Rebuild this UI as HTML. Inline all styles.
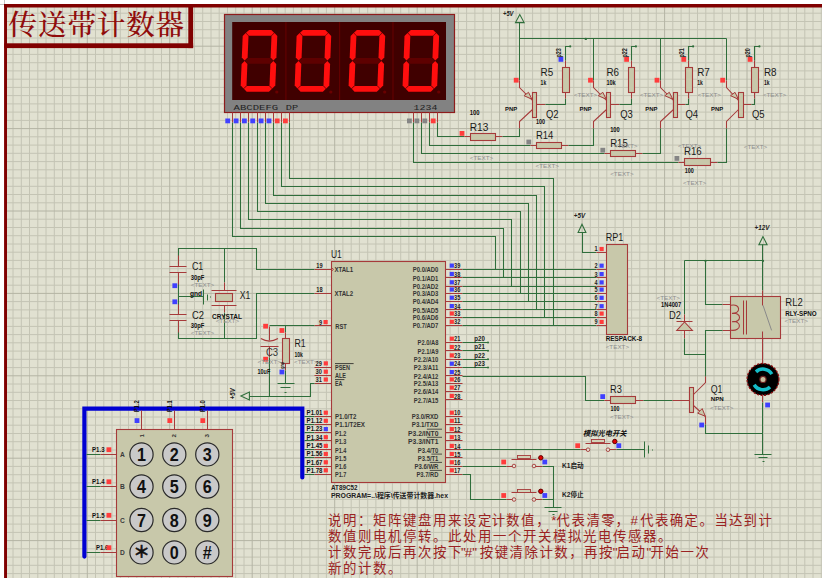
<!DOCTYPE html>
<html lang="zh"><head><meta charset="utf-8"><title>传送带计数器</title>
<style>
html,body{margin:0;padding:0;background:#fff;}
body{width:822px;height:578px;overflow:hidden;}
svg{display:block;font-family:"Liberation Sans","Noto Sans CJK SC",sans-serif;}
</style></head><body>
<svg width="822" height="578" viewBox="0 0 822 578">
<rect x="0" y="0" width="822" height="578" fill="#ffffff"/>
<rect x="4" y="4" width="818" height="574" fill="#e1e1d1"/>
<path d="M13 4V578M21.3 4V578M29.5 4V578M37.8 4V578M46 4V578M54.3 4V578M62.5 4V578M70.8 4V578M79 4V578M95.5 4V578M103.8 4V578M112 4V578M120.3 4V578M128.5 4V578M136.8 4V578M145 4V578M153.2 4V578M161.5 4V578M178 4V578M186.2 4V578M194.5 4V578M202.7 4V578M211 4V578M219.2 4V578M227.5 4V578M235.7 4V578M244 4V578M260.5 4V578M268.7 4V578M277 4V578M285.2 4V578M293.4 4V578M301.7 4V578M309.9 4V578M318.2 4V578M326.4 4V578M342.9 4V578M351.2 4V578M359.4 4V578M367.7 4V578M375.9 4V578M384.2 4V578M392.4 4V578M400.7 4V578M408.9 4V578M425.4 4V578M433.6 4V578M441.9 4V578M450.1 4V578M458.4 4V578M466.6 4V578M474.9 4V578M483.1 4V578M491.4 4V578M507.9 4V578M516.1 4V578M524.4 4V578M532.6 4V578M540.9 4V578M549.1 4V578M557.3 4V578M565.6 4V578M573.8 4V578M590.3 4V578M598.6 4V578M606.8 4V578M615.1 4V578M623.3 4V578M631.6 4V578M639.8 4V578M648.1 4V578M656.3 4V578M672.8 4V578M681.1 4V578M689.3 4V578M697.5 4V578M705.8 4V578M714 4V578M722.3 4V578M730.5 4V578M738.8 4V578M755.3 4V578M763.5 4V578M771.8 4V578M780 4V578M788.3 4V578M796.5 4V578M804.8 4V578M813 4V578M821.3 4V578M4 5H822M4 13.2H822M4 21.5H822M4 29.7H822M4 38H822M4 54.4H822M4 62.7H822M4 70.9H822M4 79.2H822M4 87.4H822M4 95.6H822M4 103.9H822M4 112.1H822M4 120.4H822M4 136.8H822M4 145.1H822M4 153.3H822M4 161.6H822M4 169.8H822M4 178H822M4 186.3H822M4 194.5H822M4 202.8H822M4 219.2H822M4 227.5H822M4 235.7H822M4 244H822M4 252.2H822M4 260.4H822M4 268.7H822M4 276.9H822M4 285.2H822M4 301.6H822M4 309.9H822M4 318.1H822M4 326.4H822M4 334.6H822M4 342.8H822M4 351.1H822M4 359.3H822M4 367.6H822M4 384H822M4 392.3H822M4 400.5H822M4 408.8H822M4 417H822M4 425.2H822M4 433.5H822M4 441.7H822M4 450H822M4 466.4H822M4 474.7H822M4 482.9H822M4 491.2H822M4 499.4H822M4 507.6H822M4 515.9H822M4 524.1H822M4 532.4H822M4 548.8H822M4 557.1H822M4 565.3H822M4 573.6H822" stroke="#c4c4b4" stroke-width="1" fill="none"/>
<path d="M4.8 4V578M87.3 4V578M169.7 4V578M252.2 4V578M334.7 4V578M417.2 4V578M499.6 4V578M582.1 4V578M664.6 4V578M747 4V578M4 46.2H822M4 128.6H822M4 211H822M4 293.4H822M4 375.8H822M4 458.2H822M4 540.6H822" stroke="#b4b4a4" stroke-width="1" fill="none"/>
<path d="M4.5 0V4M0 4.5H4" stroke="#9a9a9a" stroke-width="0.6" fill="none"/>
<rect x="4.1" y="4" width="818" height="3.5" fill="#800000"/>
<rect x="4.1" y="4" width="2.9" height="574" fill="#800000"/>
<rect x="4.2" y="43.3" width="188.9" height="4.8" fill="#800000"/>
<rect x="188.3" y="4.3" width="4.8" height="43.8" fill="#800000"/>
<text x="8.6" y="35.3" font-family="'Liberation Serif','Noto Serif CJK SC',serif" font-weight="500" font-size="28.6" fill="#900c0c" textLength="175.6" lengthAdjust="spacing">传送带计数器</text>
<rect x="224.5" y="14.5" width="230" height="98" fill="#828282" stroke="#8e1c1c" stroke-width="1.2"/>
<rect x="232.2" y="22" width="213.8" height="78" fill="#400000"/>
<line x1="285.9" y1="22" x2="285.9" y2="100" stroke="#640000" stroke-width="1.1"/>
<line x1="339.6" y1="22" x2="339.6" y2="100" stroke="#640000" stroke-width="1.1"/>
<line x1="393.0" y1="22" x2="393.0" y2="100" stroke="#640000" stroke-width="1.1"/>
<polygon points="246,32.8 249.1,29.9 271.3,29.9 274.1,32.8 271.1,35.7 248.8,35.7" fill="#ff0e0e"/>
<polygon points="244.9,60.8 248,57.9 270.3,57.9 273.1,60.8 270,63.7 247.7,63.7" fill="#5e0000"/>
<polygon points="243.9,88.8 246.9,85.9 269.2,85.9 272,88.8 268.9,91.7 246.7,91.7" fill="#ff0e0e"/>
<polygon points="245.7,33.1 248.5,36 247.6,57.5 244.6,60.4 241.8,57.5 242.7,36" fill="#ff0e0e"/>
<polygon points="274.5,33.1 277.3,36 276.4,57.5 273.4,60.4 270.6,57.5 271.5,36" fill="#ff0e0e"/>
<polygon points="244.6,61.1 247.4,64 246.5,85.5 243.5,88.4 240.7,85.5 241.6,64" fill="#ff0e0e"/>
<polygon points="273.4,61.1 276.2,64 275.3,85.5 272.3,88.4 269.5,85.5 270.4,64" fill="#ff0e0e"/>
<circle cx="276.8" cy="92" r="1.6" fill="#6a0000"/>
<polygon points="300,32.8 303,29.9 325.3,29.9 328.1,32.8 325.1,35.7 302.8,35.7" fill="#ff0e0e"/>
<polygon points="298.9,60.8 301.9,57.9 324.2,57.9 327,60.8 324,63.7 301.7,63.7" fill="#5e0000"/>
<polygon points="297.8,88.8 300.8,85.9 323.1,85.9 325.9,88.8 322.9,91.7 300.6,91.7" fill="#ff0e0e"/>
<polygon points="299.6,33.1 302.4,36 301.6,57.5 298.6,60.4 295.8,57.5 296.6,36" fill="#ff0e0e"/>
<polygon points="328.4,33.1 331.2,36 330.4,57.5 327.4,60.4 324.6,57.5 325.4,36" fill="#ff0e0e"/>
<polygon points="298.5,61.1 301.3,64 300.5,85.5 297.5,88.4 294.7,85.5 295.5,64" fill="#ff0e0e"/>
<polygon points="327.3,61.1 330.1,64 329.3,85.5 326.3,88.4 323.5,85.5 324.3,64" fill="#ff0e0e"/>
<circle cx="330.8" cy="92" r="1.6" fill="#6a0000"/>
<polygon points="353.9,32.8 356.9,29.9 379.2,29.9 382,32.8 379,35.7 356.7,35.7" fill="#ff0e0e"/>
<polygon points="352.8,60.8 355.9,57.9 378.2,57.9 380.9,60.8 377.9,63.7 355.6,63.7" fill="#5e0000"/>
<polygon points="351.8,88.8 354.8,85.9 377.1,85.9 379.9,88.8 376.8,91.7 354.5,91.7" fill="#ff0e0e"/>
<polygon points="353.6,33.1 356.4,36 355.5,57.5 352.5,60.4 349.7,57.5 350.6,36" fill="#ff0e0e"/>
<polygon points="382.4,33.1 385.2,36 384.3,57.5 381.3,60.4 378.5,57.5 379.4,36" fill="#ff0e0e"/>
<polygon points="352.5,61.1 355.3,64 354.4,85.5 351.4,88.4 348.6,85.5 349.5,64" fill="#ff0e0e"/>
<polygon points="381.3,61.1 384.1,64 383.2,85.5 380.2,88.4 377.4,85.5 378.3,64" fill="#ff0e0e"/>
<circle cx="384.7" cy="92" r="1.6" fill="#6a0000"/>
<polygon points="407.9,32.8 410.9,29.9 433.2,29.9 436,32.8 433,35.7 410.7,35.7" fill="#ff0e0e"/>
<polygon points="406.8,60.8 409.8,57.9 432.1,57.9 434.9,60.8 431.9,63.7 409.6,63.7" fill="#5e0000"/>
<polygon points="405.7,88.8 408.7,85.9 431,85.9 433.8,88.8 430.8,91.7 408.5,91.7" fill="#ff0e0e"/>
<polygon points="407.5,33.1 410.3,36 409.5,57.5 406.5,60.4 403.7,57.5 404.5,36" fill="#ff0e0e"/>
<polygon points="436.3,33.1 439.1,36 438.3,57.5 435.3,60.4 432.5,57.5 433.3,36" fill="#ff0e0e"/>
<polygon points="406.4,61.1 409.2,64 408.4,85.5 405.4,88.4 402.6,85.5 403.4,64" fill="#ff0e0e"/>
<polygon points="435.2,61.1 438,64 437.2,85.5 434.2,88.4 431.4,85.5 432.2,64" fill="#ff0e0e"/>
<circle cx="438.7" cy="92" r="1.6" fill="#6a0000"/>
<text x="233.6" y="110.3" font-size="7" font-family="'Liberation Mono','DejaVu Sans Mono',monospace" fill="#222" textLength="44.6" lengthAdjust="spacingAndGlyphs">ABCDEFG</text>
<text x="285.8" y="110.3" font-size="7" font-family="'Liberation Mono','DejaVu Sans Mono',monospace" fill="#222" textLength="12.4" lengthAdjust="spacingAndGlyphs">DP</text>
<text x="413.6" y="110.3" font-size="7" font-family="'Liberation Mono','DejaVu Sans Mono',monospace" fill="#222" textLength="23.8" lengthAdjust="spacingAndGlyphs">1234</text>
<polyline points="232.5,112.5 232.5,122.5" fill="none" stroke="#a63a3a" stroke-width="1.05"/>
<rect x="225.3" y="118.5" width="4.8" height="4.8" fill="#4040ff"/>
<polyline points="232.5,122.5 232.5,236.5 495.5,236.5 495.5,269.5" fill="none" stroke="#2f6e3b" stroke-width="1.05"/>
<polyline points="240.5,112.5 240.5,122.5" fill="none" stroke="#a63a3a" stroke-width="1.05"/>
<rect x="233.7" y="118.5" width="4.8" height="4.8" fill="#4040ff"/>
<polyline points="240.5,122.5 240.5,228.5 503.5,228.5 503.5,277.5" fill="none" stroke="#2f6e3b" stroke-width="1.05"/>
<polyline points="248.5,112.5 248.5,122.5" fill="none" stroke="#a63a3a" stroke-width="1.05"/>
<rect x="242" y="118.5" width="4.8" height="4.8" fill="#4040ff"/>
<polyline points="248.5,122.5 248.5,219.5 511.5,219.5 511.5,286.5" fill="none" stroke="#2f6e3b" stroke-width="1.05"/>
<polyline points="257.5,112.5 257.5,122.5" fill="none" stroke="#a63a3a" stroke-width="1.05"/>
<rect x="250.3" y="118.5" width="4.8" height="4.8" fill="#4040ff"/>
<polyline points="257.5,122.5 257.5,211.5 520.5,211.5 520.5,293.5" fill="none" stroke="#2f6e3b" stroke-width="1.05"/>
<polyline points="265.5,112.5 265.5,122.5" fill="none" stroke="#a63a3a" stroke-width="1.05"/>
<rect x="258.7" y="118.5" width="4.8" height="4.8" fill="#4040ff"/>
<polyline points="265.5,122.5 265.5,203.5 528.5,203.5 528.5,301.5" fill="none" stroke="#2f6e3b" stroke-width="1.05"/>
<polyline points="273.5,112.5 273.5,122.5" fill="none" stroke="#a63a3a" stroke-width="1.05"/>
<rect x="266.6" y="118.5" width="4.8" height="4.8" fill="#4040ff"/>
<polyline points="273.5,122.5 273.5,195.5 536.5,195.5 536.5,309.5" fill="none" stroke="#2f6e3b" stroke-width="1.05"/>
<polyline points="281.5,112.5 281.5,122.5" fill="none" stroke="#a63a3a" stroke-width="1.05"/>
<rect x="274.8" y="118.5" width="4.8" height="4.8" fill="#ff3c3c"/>
<polyline points="281.5,122.5 281.5,186.5 544.5,186.5 544.5,317.5" fill="none" stroke="#2f6e3b" stroke-width="1.05"/>
<polyline points="289.5,112.5 289.5,122.5" fill="none" stroke="#a63a3a" stroke-width="1.05"/>
<rect x="283" y="118.5" width="4.8" height="4.8" fill="#ff3c3c"/>
<polyline points="289.5,122.5 289.5,178.5 553.5,178.5 553.5,325.5" fill="none" stroke="#2f6e3b" stroke-width="1.05"/>
<polyline points="413.5,112.5 413.5,122.5" fill="none" stroke="#a63a3a" stroke-width="1.05"/>
<rect x="407" y="118.5" width="4.8" height="4.8" fill="#858585"/>
<polyline points="421.5,112.5 421.5,122.5" fill="none" stroke="#a63a3a" stroke-width="1.05"/>
<rect x="414.5" y="118.5" width="4.8" height="4.8" fill="#858585"/>
<polyline points="429.5,112.5 429.5,122.5" fill="none" stroke="#a63a3a" stroke-width="1.05"/>
<rect x="422.4" y="118.5" width="4.8" height="4.8" fill="#858585"/>
<polyline points="437.5,112.5 437.5,122.5" fill="none" stroke="#a63a3a" stroke-width="1.05"/>
<rect x="430.8" y="118.5" width="4.8" height="4.8" fill="#ff3c3c"/>
<polygon points="519.8,14.6 515.5,22.6 524.1,22.6" fill="none" stroke="#2f6e3b" stroke-width="1.1"/>
<text x="503" y="15.8" font-size="6.4" font-weight="bold" fill="#222" text-anchor="start" textLength="10.5" lengthAdjust="spacingAndGlyphs" font-style="italic">+5V</text>
<polyline points="519.5,38.5 726.5,38.5" fill="none" stroke="#2f6e3b" stroke-width="1.05"/>
<circle cx="585.8" cy="38.9" r="1.2" fill="#2f6e3b"/>
<polyline points="519.5,22.5 519.5,80.5" fill="none" stroke="#2f6e3b" stroke-width="1.05"/>
<polyline points="519.5,80.5 519.5,87.5 532.5,100.5" fill="none" stroke="#a63a3a" stroke-width="1.05"/>
<polygon points="524,95.7 528.5,92.3 531.9,99.2" fill="#c8c8aa" stroke="#a63a3a" stroke-width="1"/>
<polyline points="532.5,109.5 519.5,121.5 519.5,128.5" fill="none" stroke="#a63a3a" stroke-width="1.05"/>
<rect x="532.5" y="92.5" width="4" height="25" fill="#c8c8aa" stroke="#a63a3a" stroke-width="1.1"/>
<polyline points="536.5,104.5 545.5,104.5" fill="none" stroke="#a63a3a" stroke-width="1.05"/>
<polyline points="545.5,104.5 565.5,104.5 565.5,98.5" fill="none" stroke="#2f6e3b" stroke-width="1.05"/>
<polyline points="565.5,98.5 565.5,92.5" fill="none" stroke="#a63a3a" stroke-width="1.05"/>
<rect x="562.5" y="67.5" width="7" height="25" fill="#c8c8aa" stroke="#a63a3a" stroke-width="1.1"/>
<polyline points="565.5,67.5 565.5,60.5" fill="none" stroke="#a63a3a" stroke-width="1.05"/>
<polyline points="565.5,60.5 565.5,46.5 570.5,46.5" fill="none" stroke="#2f6e3b" stroke-width="1.05"/>
<circle cx="570.2" cy="46.4" r="1.1" fill="#2f6e3b"/>
<rect x="558.5" y="57" width="4.8" height="4.8" fill="#4040ff"/>
<rect x="513.8" y="77.8" width="4.8" height="4.8" fill="#ff3c3c"/>
<text x="561.2" y="57.6" font-size="6.4" font-weight="bold" fill="#222" text-anchor="start" transform="rotate(-90 561.2 57.6)" textLength="9.4" lengthAdjust="spacingAndGlyphs">p23</text>
<polyline points="593.5,38.5 593.5,80.5" fill="none" stroke="#2f6e3b" stroke-width="1.05"/>
<polyline points="593.5,80.5 593.5,87.5 606.5,100.5" fill="none" stroke="#a63a3a" stroke-width="1.05"/>
<polygon points="598.3,95.7 602.8,92.3 606.2,99.2" fill="#c8c8aa" stroke="#a63a3a" stroke-width="1"/>
<polyline points="606.5,109.5 593.5,121.5 593.5,128.5" fill="none" stroke="#a63a3a" stroke-width="1.05"/>
<rect x="606.5" y="92.5" width="4" height="25" fill="#c8c8aa" stroke="#a63a3a" stroke-width="1.1"/>
<polyline points="610.5,104.5 619.5,104.5" fill="none" stroke="#a63a3a" stroke-width="1.05"/>
<polyline points="619.5,104.5 631.5,104.5 631.5,98.5" fill="none" stroke="#2f6e3b" stroke-width="1.05"/>
<polyline points="631.5,98.5 631.5,92.5" fill="none" stroke="#a63a3a" stroke-width="1.05"/>
<rect x="628.5" y="67.5" width="6" height="25" fill="#c8c8aa" stroke="#a63a3a" stroke-width="1.1"/>
<polyline points="631.5,67.5 631.5,60.5" fill="none" stroke="#a63a3a" stroke-width="1.05"/>
<polyline points="631.5,60.5 631.5,46.5 635.5,46.5" fill="none" stroke="#2f6e3b" stroke-width="1.05"/>
<circle cx="635.9" cy="46.4" r="1.1" fill="#2f6e3b"/>
<rect x="624.2" y="57" width="4.8" height="4.8" fill="#ff3c3c"/>
<rect x="588.1" y="77.8" width="4.8" height="4.8" fill="#ff3c3c"/>
<text x="626.9" y="57.6" font-size="6.4" font-weight="bold" fill="#222" text-anchor="start" transform="rotate(-90 626.9 57.6)" textLength="9.4" lengthAdjust="spacingAndGlyphs">p22</text>
<polyline points="660.5,38.5 660.5,80.5" fill="none" stroke="#2f6e3b" stroke-width="1.05"/>
<polyline points="660.5,80.5 660.5,87.5 673.5,100.5" fill="none" stroke="#a63a3a" stroke-width="1.05"/>
<polygon points="664.8,95.7 669.3,92.3 672.7,99.2" fill="#c8c8aa" stroke="#a63a3a" stroke-width="1"/>
<polyline points="673.5,109.5 660.5,121.5 660.5,128.5" fill="none" stroke="#a63a3a" stroke-width="1.05"/>
<rect x="673.5" y="92.5" width="4" height="25" fill="#c8c8aa" stroke="#a63a3a" stroke-width="1.1"/>
<polyline points="677.5,104.5 685.5,104.5" fill="none" stroke="#a63a3a" stroke-width="1.05"/>
<polyline points="685.5,104.5 688.5,104.5 688.5,98.5" fill="none" stroke="#2f6e3b" stroke-width="1.05"/>
<polyline points="688.5,98.5 688.5,92.5" fill="none" stroke="#a63a3a" stroke-width="1.05"/>
<rect x="685.5" y="67.5" width="7" height="25" fill="#c8c8aa" stroke="#a63a3a" stroke-width="1.1"/>
<polyline points="688.5,67.5 688.5,60.5" fill="none" stroke="#a63a3a" stroke-width="1.05"/>
<polyline points="688.5,60.5 688.5,46.5 693.5,46.5" fill="none" stroke="#2f6e3b" stroke-width="1.05"/>
<circle cx="693.1" cy="46.4" r="1.1" fill="#2f6e3b"/>
<rect x="681.4" y="57" width="4.8" height="4.8" fill="#ff3c3c"/>
<rect x="654.6" y="77.8" width="4.8" height="4.8" fill="#ff3c3c"/>
<text x="684.1" y="57.6" font-size="6.4" font-weight="bold" fill="#222" text-anchor="start" transform="rotate(-90 684.1 57.6)" textLength="9.4" lengthAdjust="spacingAndGlyphs">p21</text>
<polyline points="726.5,38.5 726.5,80.5" fill="none" stroke="#2f6e3b" stroke-width="1.05"/>
<polyline points="726.5,80.5 726.5,87.5 738.5,100.5" fill="none" stroke="#a63a3a" stroke-width="1.05"/>
<polygon points="730.5,95.7 735,92.3 738.4,99.2" fill="#c8c8aa" stroke="#a63a3a" stroke-width="1"/>
<polyline points="738.5,109.5 726.5,121.5 726.5,128.5" fill="none" stroke="#a63a3a" stroke-width="1.05"/>
<rect x="738.5" y="92.5" width="5" height="25" fill="#c8c8aa" stroke="#a63a3a" stroke-width="1.1"/>
<polyline points="743.5,104.5 751.5,104.5" fill="none" stroke="#a63a3a" stroke-width="1.05"/>
<polyline points="751.5,104.5 754.5,104.5 754.5,98.5" fill="none" stroke="#2f6e3b" stroke-width="1.05"/>
<polyline points="754.5,98.5 754.5,92.5" fill="none" stroke="#a63a3a" stroke-width="1.05"/>
<rect x="751.5" y="67.5" width="7" height="25" fill="#c8c8aa" stroke="#a63a3a" stroke-width="1.1"/>
<polyline points="754.5,67.5 754.5,60.5" fill="none" stroke="#a63a3a" stroke-width="1.05"/>
<polyline points="754.5,60.5 754.5,46.5 759.5,46.5" fill="none" stroke="#2f6e3b" stroke-width="1.05"/>
<circle cx="759.4" cy="46.4" r="1.1" fill="#2f6e3b"/>
<rect x="747.7" y="57" width="4.8" height="4.8" fill="#ff3c3c"/>
<rect x="720.3" y="77.8" width="4.8" height="4.8" fill="#ff3c3c"/>
<text x="750.4" y="57.6" font-size="6.4" font-weight="bold" fill="#222" text-anchor="start" transform="rotate(-90 750.4 57.6)" textLength="9.4" lengthAdjust="spacingAndGlyphs">p20</text>
<text x="540.6" y="75.5" font-size="10.5" font-weight="normal" fill="#1a1a1a" text-anchor="start" textLength="12.6" lengthAdjust="spacingAndGlyphs">R5</text>
<text x="606.4" y="75.5" font-size="10.5" font-weight="normal" fill="#1a1a1a" text-anchor="start" textLength="12.6" lengthAdjust="spacingAndGlyphs">R6</text>
<text x="697.2" y="75.5" font-size="10.5" font-weight="normal" fill="#1a1a1a" text-anchor="start" textLength="12.6" lengthAdjust="spacingAndGlyphs">R7</text>
<text x="764" y="75.5" font-size="10.5" font-weight="normal" fill="#1a1a1a" text-anchor="start" textLength="12.6" lengthAdjust="spacingAndGlyphs">R8</text>
<text x="540.6" y="84.9" font-size="6.7" font-weight="bold" fill="#111" text-anchor="start" textLength="5.6" lengthAdjust="spacingAndGlyphs">1k</text>
<text x="606.4" y="84.9" font-size="6.7" font-weight="bold" fill="#111" text-anchor="start" textLength="9.2" lengthAdjust="spacingAndGlyphs">10k</text>
<text x="697.2" y="84.9" font-size="6.7" font-weight="bold" fill="#111" text-anchor="start" textLength="5.6" lengthAdjust="spacingAndGlyphs">1k</text>
<text x="764" y="84.9" font-size="6.7" font-weight="bold" fill="#111" text-anchor="start" textLength="5.6" lengthAdjust="spacingAndGlyphs">1k</text>
<text x="546" y="117.6" font-size="10.5" font-weight="normal" fill="#1a1a1a" text-anchor="start" textLength="12.6" lengthAdjust="spacingAndGlyphs">Q2</text>
<text x="620.2" y="117.6" font-size="10.5" font-weight="normal" fill="#1a1a1a" text-anchor="start" textLength="12.6" lengthAdjust="spacingAndGlyphs">Q3</text>
<text x="685.5" y="117.6" font-size="10.5" font-weight="normal" fill="#1a1a1a" text-anchor="start" textLength="12.6" lengthAdjust="spacingAndGlyphs">Q4</text>
<text x="751.9" y="117.6" font-size="10.5" font-weight="normal" fill="#1a1a1a" text-anchor="start" textLength="12.6" lengthAdjust="spacingAndGlyphs">Q5</text>
<text x="505" y="111" font-size="5.4" font-weight="bold" fill="#111" text-anchor="start" textLength="12.2" lengthAdjust="spacingAndGlyphs">PNP</text>
<text x="579.6" y="111" font-size="5.4" font-weight="bold" fill="#111" text-anchor="start" textLength="12.2" lengthAdjust="spacingAndGlyphs">PNP</text>
<text x="645.3" y="111" font-size="5.4" font-weight="bold" fill="#111" text-anchor="start" textLength="12.2" lengthAdjust="spacingAndGlyphs">PNP</text>
<text x="711" y="111" font-size="5.4" font-weight="bold" fill="#111" text-anchor="start" textLength="12.2" lengthAdjust="spacingAndGlyphs">PNP</text>
<text x="573.8" y="97.4" font-size="6.2" font-weight="normal" fill="#8e8e8e" text-anchor="start" textLength="23.4" lengthAdjust="spacingAndGlyphs">&lt;TEXT&gt;</text>
<text x="639.8" y="97.4" font-size="6.2" font-weight="normal" fill="#8e8e8e" text-anchor="start" textLength="23.4" lengthAdjust="spacingAndGlyphs">&lt;TEXT&gt;</text>
<text x="697.5" y="97.4" font-size="6.2" font-weight="normal" fill="#8e8e8e" text-anchor="start" textLength="23.4" lengthAdjust="spacingAndGlyphs">&lt;TEXT&gt;</text>
<text x="762.8" y="97.4" font-size="6.2" font-weight="normal" fill="#8e8e8e" text-anchor="start" textLength="23.4" lengthAdjust="spacingAndGlyphs">&lt;TEXT&gt;</text>
<polyline points="437.5,122.5 437.5,136.5 464.5,136.5" fill="none" stroke="#2f6e3b" stroke-width="1.05"/>
<polyline points="464.5,136.5 470.5,136.5" fill="none" stroke="#a63a3a" stroke-width="1.05"/>
<polyline points="495.5,136.5 502.5,136.5" fill="none" stroke="#a63a3a" stroke-width="1.05"/>
<rect x="470.5" y="133.5" width="25" height="7" fill="#c8c8aa" stroke="#a63a3a" stroke-width="1.1"/>
<polyline points="502.5,136.5 519.5,136.5 519.5,128.5" fill="none" stroke="#2f6e3b" stroke-width="1.05"/>
<rect x="459.6" y="131" width="4.8" height="4.8" fill="#ff3c3c"/>
<text x="469.8" y="130.6" font-size="10.5" font-weight="normal" fill="#1a1a1a" text-anchor="start" textLength="18.6" lengthAdjust="spacingAndGlyphs">R13</text>
<text x="469.8" y="115.3" font-size="6.7" font-weight="bold" fill="#111" text-anchor="start" textLength="9.8" lengthAdjust="spacingAndGlyphs">100</text>
<text x="469.8" y="160.3" font-size="6.2" font-weight="normal" fill="#8e8e8e" text-anchor="start" textLength="23.4" lengthAdjust="spacingAndGlyphs">&lt;TEXT&gt;</text>
<text x="536" y="123.9" font-size="6.7" font-weight="bold" fill="#111" text-anchor="start" textLength="9" lengthAdjust="spacingAndGlyphs">100</text>
<polyline points="429.5,122.5 429.5,145.5 530.5,145.5" fill="none" stroke="#2f6e3b" stroke-width="1.05"/>
<polyline points="530.5,145.5 536.5,145.5" fill="none" stroke="#a63a3a" stroke-width="1.05"/>
<polyline points="561.5,145.5 568.5,145.5" fill="none" stroke="#a63a3a" stroke-width="1.05"/>
<rect x="536.5" y="142.5" width="25" height="6" fill="#c8c8aa" stroke="#a63a3a" stroke-width="1.1"/>
<polyline points="568.5,145.5 593.5,145.5 593.5,128.5" fill="none" stroke="#2f6e3b" stroke-width="1.05"/>
<rect x="526.4" y="139.6" width="4.8" height="4.8" fill="#858585"/>
<text x="536" y="139.2" font-size="10.5" font-weight="normal" fill="#1a1a1a" text-anchor="start" textLength="17.4" lengthAdjust="spacingAndGlyphs">R14</text>
<text x="535.5" y="168.3" font-size="6.2" font-weight="normal" fill="#8e8e8e" text-anchor="start" textLength="23.4" lengthAdjust="spacingAndGlyphs">&lt;TEXT&gt;</text>
<polyline points="421.5,122.5 421.5,153.5 604.5,153.5" fill="none" stroke="#2f6e3b" stroke-width="1.05"/>
<polyline points="604.5,153.5 610.5,153.5" fill="none" stroke="#a63a3a" stroke-width="1.05"/>
<polyline points="635.5,153.5 642.5,153.5" fill="none" stroke="#a63a3a" stroke-width="1.05"/>
<rect x="610.5" y="150.5" width="25" height="6" fill="#c8c8aa" stroke="#a63a3a" stroke-width="1.1"/>
<polyline points="642.5,153.5 660.5,153.5 660.5,128.5" fill="none" stroke="#2f6e3b" stroke-width="1.05"/>
<rect x="600.4" y="147.8" width="4.8" height="4.8" fill="#858585"/>
<text x="610.2" y="146.8" font-size="10.5" font-weight="normal" fill="#1a1a1a" text-anchor="start" textLength="17.6" lengthAdjust="spacingAndGlyphs">R15</text>
<text x="614" y="148.2" font-size="6.2" font-weight="normal" fill="#8e8e8e" text-anchor="start" textLength="23.4" lengthAdjust="spacingAndGlyphs">&lt;TEXT&gt;</text>
<text x="610.2" y="131.8" font-size="6.7" font-weight="bold" fill="#111" text-anchor="start" textLength="9.5" lengthAdjust="spacingAndGlyphs">100</text>
<text x="610.2" y="176.4" font-size="6.2" font-weight="normal" fill="#8e8e8e" text-anchor="start" textLength="23.4" lengthAdjust="spacingAndGlyphs">&lt;TEXT&gt;</text>
<polyline points="413.5,122.5 413.5,162.5 678.5,162.5" fill="none" stroke="#2f6e3b" stroke-width="1.05"/>
<polyline points="678.5,162.5 684.5,162.5" fill="none" stroke="#a63a3a" stroke-width="1.05"/>
<polyline points="710.5,162.5 717.5,162.5" fill="none" stroke="#a63a3a" stroke-width="1.05"/>
<rect x="684.5" y="158.5" width="26" height="7" fill="#c8c8aa" stroke="#a63a3a" stroke-width="1.1"/>
<polyline points="717.5,162.5 726.5,162.5 726.5,128.5" fill="none" stroke="#2f6e3b" stroke-width="1.05"/>
<rect x="674.5" y="156" width="4.8" height="4.8" fill="#858585"/>
<text x="684" y="155.3" font-size="10.5" font-weight="normal" fill="#1a1a1a" text-anchor="start" textLength="17.7" lengthAdjust="spacingAndGlyphs">R16</text>
<text x="677.9" y="148.2" font-size="6.2" font-weight="normal" fill="#8e8e8e" text-anchor="start" textLength="23.4" lengthAdjust="spacingAndGlyphs">&lt;TEXT&gt;</text>
<text x="743.8" y="149" font-size="6.2" font-weight="normal" fill="#8e8e8e" text-anchor="start" textLength="23.4" lengthAdjust="spacingAndGlyphs">&lt;TEXT&gt;</text>
<text x="684.7" y="172.6" font-size="6.7" font-weight="bold" fill="#111" text-anchor="start" textLength="9" lengthAdjust="spacingAndGlyphs">100</text>
<text x="682.9" y="184.6" font-size="6.2" font-weight="normal" fill="#8e8e8e" text-anchor="start" textLength="23.4" lengthAdjust="spacingAndGlyphs">&lt;TEXT&gt;</text>
<polyline points="178.5,264.5 178.5,248.5 256.5,248.5 256.5,269.5 314.5,269.5" fill="none" stroke="#2f6e3b" stroke-width="1.05"/>
<polyline points="224.5,248.5 224.5,282.5" fill="none" stroke="#2f6e3b" stroke-width="1.05"/>
<polyline points="224.5,312.5 224.5,338.5" fill="none" stroke="#2f6e3b" stroke-width="1.05"/>
<polyline points="178.5,322.5 178.5,338.5 256.5,338.5 256.5,293.5 314.5,293.5" fill="none" stroke="#2f6e3b" stroke-width="1.05"/>
<polyline points="178.5,274.5 178.5,312.5" fill="none" stroke="#2f6e3b" stroke-width="1.05"/>
<polyline points="178.5,296.5 203.5,296.5" fill="none" stroke="#2f6e3b" stroke-width="1.05"/>
<polyline points="169.5,266.5 186.5,266.5" fill="none" stroke="#a63a3a" stroke-width="1.05"/>
<polyline points="169.5,272.5 186.5,272.5" fill="none" stroke="#a63a3a" stroke-width="1.05"/>
<polyline points="178.5,255.5 178.5,266.5" fill="none" stroke="#a63a3a" stroke-width="1.05"/>
<polyline points="178.5,272.5 178.5,284.5" fill="none" stroke="#a63a3a" stroke-width="1.05"/>
<polyline points="169.5,314.5 186.5,314.5" fill="none" stroke="#a63a3a" stroke-width="1.05"/>
<polyline points="169.5,320.5 186.5,320.5" fill="none" stroke="#a63a3a" stroke-width="1.05"/>
<polyline points="178.5,304.5 178.5,314.5" fill="none" stroke="#a63a3a" stroke-width="1.05"/>
<polyline points="178.5,320.5 178.5,332.5" fill="none" stroke="#a63a3a" stroke-width="1.05"/>
<polyline points="224.5,282.5 224.5,290.5" fill="none" stroke="#a63a3a" stroke-width="1.05"/>
<polyline points="211.5,290.5 236.5,290.5" fill="none" stroke="#a63a3a" stroke-width="1.05"/>
<rect x="215.5" y="293.5" width="17" height="8" fill="#c8c8aa" stroke="#a63a3a" stroke-width="1.1"/>
<polyline points="211.5,305.5 236.5,305.5" fill="none" stroke="#a63a3a" stroke-width="1.05"/>
<polyline points="224.5,305.5 224.5,312.5" fill="none" stroke="#a63a3a" stroke-width="1.05"/>
<polyline points="203.5,289.5 203.5,304.5" fill="none" stroke="#2f6e3b" stroke-width="1.05"/>
<polyline points="207.5,294.5 207.5,300.5" fill="none" stroke="#2f6e3b" stroke-width="1.05"/>
<polyline points="210.5,296.5 210.5,297.5" fill="none" stroke="#2f6e3b" stroke-width="1.05"/>
<rect x="172.4" y="283.3" width="4.8" height="4.8" fill="#4040ff"/>
<rect x="172.4" y="299.4" width="4.8" height="4.8" fill="#4040ff"/>
<text x="191.9" y="269.8" font-size="10.5" font-weight="normal" fill="#1a1a1a" text-anchor="start" textLength="11.4" lengthAdjust="spacingAndGlyphs">C1</text>
<text x="190.8" y="279.5" font-size="6.7" font-weight="bold" fill="#111" text-anchor="start" textLength="13.6" lengthAdjust="spacingAndGlyphs">30pF</text>
<text x="190.8" y="287.3" font-size="6.2" font-weight="normal" fill="#8e8e8e" text-anchor="start" textLength="23.4" lengthAdjust="spacingAndGlyphs">&lt;TEXT&gt;</text>
<text x="191.9" y="318.6" font-size="10.5" font-weight="normal" fill="#1a1a1a" text-anchor="start" textLength="12" lengthAdjust="spacingAndGlyphs">C2</text>
<text x="190.8" y="327.7" font-size="6.7" font-weight="bold" fill="#111" text-anchor="start" textLength="13.6" lengthAdjust="spacingAndGlyphs">30pF</text>
<text x="190.8" y="335.4" font-size="6.2" font-weight="normal" fill="#8e8e8e" text-anchor="start" textLength="23.4" lengthAdjust="spacingAndGlyphs">&lt;TEXT&gt;</text>
<text x="190" y="296.1" font-size="6.7" font-weight="bold" fill="#111" text-anchor="start" textLength="12" lengthAdjust="spacingAndGlyphs">gnd</text>
<text x="239.7" y="298.8" font-size="10.5" font-weight="normal" fill="#1a1a1a" text-anchor="start" textLength="10.6" lengthAdjust="spacingAndGlyphs">X1</text>
<text x="215.7" y="322.8" font-size="6.2" font-weight="normal" fill="#8e8e8e" text-anchor="start" textLength="23.4" lengthAdjust="spacingAndGlyphs">&lt;TEXT&gt;</text>
<text x="212" y="318.9" font-size="6.7" font-weight="bold" fill="#111" text-anchor="start" textLength="30" lengthAdjust="spacingAndGlyphs">CRYSTAL</text>
<rect x="331.5" y="261.5" width="114" height="221" fill="#c8c8aa" stroke="#a63a3a" stroke-width="1.1"/>
<text x="331" y="257.8" font-size="10.5" font-weight="normal" fill="#1a1a1a" text-anchor="start" textLength="10.8" lengthAdjust="spacingAndGlyphs">U1</text>
<polyline points="314.5,269.5 331.5,269.5" fill="none" stroke="#a63a3a" stroke-width="1.05"/>
<polyline points="314.5,293.5 331.5,293.5" fill="none" stroke="#a63a3a" stroke-width="1.05"/>
<polyline points="314.5,325.5 331.5,325.5" fill="none" stroke="#a63a3a" stroke-width="1.05"/>
<text x="322.6" y="268.2" font-size="6.8" font-weight="bold" fill="#222" text-anchor="end" textLength="6.3" lengthAdjust="spacingAndGlyphs">19</text>
<text x="322.6" y="292.2" font-size="6.8" font-weight="bold" fill="#222" text-anchor="end" textLength="6.3" lengthAdjust="spacingAndGlyphs">18</text>
<text x="322" y="324.6" font-size="6.8" font-weight="bold" fill="#222" text-anchor="end" textLength="3.1" lengthAdjust="spacingAndGlyphs">9</text>
<polyline points="331.3,267.4 333.5,269.4 331.3,271.4" fill="none" stroke="#a63a3a" stroke-width="0.9"/>
<rect x="323.5" y="320" width="4.2" height="4.2" fill="#ff3c3c"/>
<text x="334.4" y="272.4" font-size="6.7" font-weight="bold" fill="#343434" text-anchor="start" textLength="18.8" lengthAdjust="spacingAndGlyphs">XTAL1</text>
<text x="334.4" y="296.4" font-size="6.7" font-weight="bold" fill="#343434" text-anchor="start" textLength="18.8" lengthAdjust="spacingAndGlyphs">XTAL2</text>
<text x="335.2" y="328.5" font-size="6.7" font-weight="bold" fill="#343434" text-anchor="start" textLength="11.6" lengthAdjust="spacingAndGlyphs">RST</text>
<polyline points="314.5,367.5 331.5,367.5" fill="none" stroke="#a63a3a" stroke-width="1.05"/>
<text x="321.8" y="365.9" font-size="6.8" font-weight="bold" fill="#222" text-anchor="end" textLength="6.3" lengthAdjust="spacingAndGlyphs">29</text>
<rect x="323.7" y="361.3" width="4.2" height="4.2" fill="#ff3c3c"/>
<polyline points="314.5,375.5 331.5,375.5" fill="none" stroke="#a63a3a" stroke-width="1.05"/>
<text x="321.8" y="374.2" font-size="6.8" font-weight="bold" fill="#222" text-anchor="end" textLength="6.3" lengthAdjust="spacingAndGlyphs">30</text>
<rect x="323.7" y="369.6" width="4.2" height="4.2" fill="#ff3c3c"/>
<polyline points="314.5,383.5 331.5,383.5" fill="none" stroke="#a63a3a" stroke-width="1.05"/>
<text x="321.8" y="382" font-size="6.8" font-weight="bold" fill="#222" text-anchor="end" textLength="6.3" lengthAdjust="spacingAndGlyphs">31</text>
<rect x="323.7" y="377.4" width="4.2" height="4.2" fill="#ff3c3c"/>
<text x="335" y="370" font-size="6.7" font-weight="bold" fill="#343434" text-anchor="start" textLength="15" lengthAdjust="spacingAndGlyphs">PSEN</text>
<text x="335" y="378.2" font-size="6.7" font-weight="bold" fill="#343434" text-anchor="start" textLength="11" lengthAdjust="spacingAndGlyphs">ALE</text>
<text x="335" y="386.1" font-size="6.7" font-weight="bold" fill="#343434" text-anchor="start" textLength="7.4" lengthAdjust="spacingAndGlyphs">EA</text>
<path d="M335 363.6H353.6M335 379.6H344.4" stroke="#1c1c1c" stroke-width="0.8" fill="none"/>
<polyline points="304.5,416.5 314.5,416.5" fill="none" stroke="#2f6e3b" stroke-width="1.05"/>
<polyline points="314.5,416.5 331.5,416.5" fill="none" stroke="#a63a3a" stroke-width="1.05"/>
<text x="306.6" y="415" font-size="6.4" font-weight="bold" fill="#111" text-anchor="start" textLength="15.8" lengthAdjust="spacingAndGlyphs">P1.01</text>
<rect x="323.7" y="410.6" width="4.2" height="4.2" fill="#ff3c3c"/>
<text x="335" y="419.3" font-size="6.7" font-weight="bold" fill="#343434" text-anchor="start" textLength="21.4" lengthAdjust="spacingAndGlyphs">P1.0/T2</text>
<polyline points="304.5,424.5 314.5,424.5" fill="none" stroke="#2f6e3b" stroke-width="1.05"/>
<polyline points="314.5,424.5 331.5,424.5" fill="none" stroke="#a63a3a" stroke-width="1.05"/>
<text x="306.6" y="423.1" font-size="6.4" font-weight="bold" fill="#111" text-anchor="start" textLength="15.8" lengthAdjust="spacingAndGlyphs">P1.12</text>
<rect x="323.7" y="418.7" width="4.2" height="4.2" fill="#ff3c3c"/>
<text x="335" y="427.4" font-size="6.7" font-weight="bold" fill="#343434" text-anchor="start" textLength="30" lengthAdjust="spacingAndGlyphs">P1.1/T2EX</text>
<polyline points="304.5,432.5 314.5,432.5" fill="none" stroke="#2f6e3b" stroke-width="1.05"/>
<polyline points="314.5,432.5 331.5,432.5" fill="none" stroke="#a63a3a" stroke-width="1.05"/>
<text x="306.6" y="431.4" font-size="6.4" font-weight="bold" fill="#111" text-anchor="start" textLength="15.8" lengthAdjust="spacingAndGlyphs">P1.23</text>
<rect x="323.7" y="427" width="4.2" height="4.2" fill="#4040ff"/>
<text x="335" y="435.7" font-size="6.7" font-weight="bold" fill="#343434" text-anchor="start" textLength="11.4" lengthAdjust="spacingAndGlyphs">P1.2</text>
<polyline points="304.5,440.5 314.5,440.5" fill="none" stroke="#2f6e3b" stroke-width="1.05"/>
<polyline points="314.5,440.5 331.5,440.5" fill="none" stroke="#a63a3a" stroke-width="1.05"/>
<text x="306.6" y="439.5" font-size="6.4" font-weight="bold" fill="#111" text-anchor="start" textLength="15.8" lengthAdjust="spacingAndGlyphs">P1.34</text>
<rect x="323.7" y="435.1" width="4.2" height="4.2" fill="#ff3c3c"/>
<text x="335" y="443.8" font-size="6.7" font-weight="bold" fill="#343434" text-anchor="start" textLength="11.4" lengthAdjust="spacingAndGlyphs">P1.3</text>
<polyline points="304.5,449.5 314.5,449.5" fill="none" stroke="#2f6e3b" stroke-width="1.05"/>
<polyline points="314.5,449.5 331.5,449.5" fill="none" stroke="#a63a3a" stroke-width="1.05"/>
<text x="306.6" y="448.2" font-size="6.4" font-weight="bold" fill="#111" text-anchor="start" textLength="15.8" lengthAdjust="spacingAndGlyphs">P1.45</text>
<rect x="323.7" y="443.8" width="4.2" height="4.2" fill="#ff3c3c"/>
<text x="335" y="452.5" font-size="6.7" font-weight="bold" fill="#343434" text-anchor="start" textLength="11.4" lengthAdjust="spacingAndGlyphs">P1.4</text>
<polyline points="304.5,457.5 314.5,457.5" fill="none" stroke="#2f6e3b" stroke-width="1.05"/>
<polyline points="314.5,457.5 331.5,457.5" fill="none" stroke="#a63a3a" stroke-width="1.05"/>
<text x="306.6" y="456.3" font-size="6.4" font-weight="bold" fill="#111" text-anchor="start" textLength="15.8" lengthAdjust="spacingAndGlyphs">P1.56</text>
<rect x="323.7" y="451.9" width="4.2" height="4.2" fill="#ff3c3c"/>
<text x="335" y="460.6" font-size="6.7" font-weight="bold" fill="#343434" text-anchor="start" textLength="11.4" lengthAdjust="spacingAndGlyphs">P1.5</text>
<polyline points="304.5,466.5 314.5,466.5" fill="none" stroke="#2f6e3b" stroke-width="1.05"/>
<polyline points="314.5,466.5 331.5,466.5" fill="none" stroke="#a63a3a" stroke-width="1.05"/>
<text x="306.6" y="464.6" font-size="6.4" font-weight="bold" fill="#111" text-anchor="start" textLength="15.8" lengthAdjust="spacingAndGlyphs">P1.67</text>
<rect x="323.7" y="460.2" width="4.2" height="4.2" fill="#ff3c3c"/>
<text x="335" y="468.9" font-size="6.7" font-weight="bold" fill="#343434" text-anchor="start" textLength="11.4" lengthAdjust="spacingAndGlyphs">P1.6</text>
<polyline points="304.5,474.5 314.5,474.5" fill="none" stroke="#2f6e3b" stroke-width="1.05"/>
<polyline points="314.5,474.5 331.5,474.5" fill="none" stroke="#a63a3a" stroke-width="1.05"/>
<text x="306.6" y="472.6" font-size="6.4" font-weight="bold" fill="#111" text-anchor="start" textLength="15.8" lengthAdjust="spacingAndGlyphs">P1.78</text>
<rect x="323.7" y="468.2" width="4.2" height="4.2" fill="#ff3c3c"/>
<text x="335" y="476.9" font-size="6.7" font-weight="bold" fill="#343434" text-anchor="start" textLength="11.4" lengthAdjust="spacingAndGlyphs">P1.7</text>
<polyline points="445.5,269.5 462.5,269.5" fill="none" stroke="#a63a3a" stroke-width="1.05"/>
<polyline points="462.5,269.5 596.5,269.5" fill="none" stroke="#2f6e3b" stroke-width="1.05"/>
<rect x="449.7" y="263.5" width="4.2" height="4.2" fill="#4040ff"/>
<text x="454" y="268.2" font-size="6.8" font-weight="bold" fill="#222" text-anchor="start" textLength="6.3" lengthAdjust="spacingAndGlyphs">39</text>
<text x="438.4" y="272.2" font-size="6.7" font-weight="bold" fill="#343434" text-anchor="end" textLength="25.6" lengthAdjust="spacingAndGlyphs">P0.0/AD0</text>
<polyline points="445.5,277.5 462.5,277.5" fill="none" stroke="#a63a3a" stroke-width="1.05"/>
<polyline points="462.5,277.5 596.5,277.5" fill="none" stroke="#2f6e3b" stroke-width="1.05"/>
<rect x="449.7" y="271.9" width="4.2" height="4.2" fill="#4040ff"/>
<text x="454" y="276.6" font-size="6.8" font-weight="bold" fill="#222" text-anchor="start" textLength="6.3" lengthAdjust="spacingAndGlyphs">38</text>
<text x="438.4" y="280.6" font-size="6.7" font-weight="bold" fill="#343434" text-anchor="end" textLength="25.6" lengthAdjust="spacingAndGlyphs">P0.1/AD1</text>
<polyline points="445.5,286.5 462.5,286.5" fill="none" stroke="#a63a3a" stroke-width="1.05"/>
<polyline points="462.5,286.5 596.5,286.5" fill="none" stroke="#2f6e3b" stroke-width="1.05"/>
<rect x="449.7" y="280.2" width="4.2" height="4.2" fill="#4040ff"/>
<text x="454" y="284.9" font-size="6.8" font-weight="bold" fill="#222" text-anchor="start" textLength="6.3" lengthAdjust="spacingAndGlyphs">37</text>
<text x="438.4" y="288.9" font-size="6.7" font-weight="bold" fill="#343434" text-anchor="end" textLength="25.6" lengthAdjust="spacingAndGlyphs">P0.2/AD2</text>
<polyline points="445.5,293.5 462.5,293.5" fill="none" stroke="#a63a3a" stroke-width="1.05"/>
<polyline points="462.5,293.5 596.5,293.5" fill="none" stroke="#2f6e3b" stroke-width="1.05"/>
<rect x="449.7" y="287.4" width="4.2" height="4.2" fill="#4040ff"/>
<text x="454" y="292.1" font-size="6.8" font-weight="bold" fill="#222" text-anchor="start" textLength="6.3" lengthAdjust="spacingAndGlyphs">36</text>
<text x="438.4" y="296.1" font-size="6.7" font-weight="bold" fill="#343434" text-anchor="end" textLength="25.6" lengthAdjust="spacingAndGlyphs">P0.3/AD3</text>
<polyline points="445.5,301.5 462.5,301.5" fill="none" stroke="#a63a3a" stroke-width="1.05"/>
<polyline points="462.5,301.5 596.5,301.5" fill="none" stroke="#2f6e3b" stroke-width="1.05"/>
<rect x="449.7" y="295.6" width="4.2" height="4.2" fill="#4040ff"/>
<text x="454" y="300.3" font-size="6.8" font-weight="bold" fill="#222" text-anchor="start" textLength="6.3" lengthAdjust="spacingAndGlyphs">35</text>
<text x="438.4" y="304.3" font-size="6.7" font-weight="bold" fill="#343434" text-anchor="end" textLength="25.6" lengthAdjust="spacingAndGlyphs">P0.4/AD4</text>
<polyline points="445.5,309.5 462.5,309.5" fill="none" stroke="#a63a3a" stroke-width="1.05"/>
<polyline points="462.5,309.5 596.5,309.5" fill="none" stroke="#2f6e3b" stroke-width="1.05"/>
<rect x="449.7" y="304" width="4.2" height="4.2" fill="#4040ff"/>
<text x="454" y="308.7" font-size="6.8" font-weight="bold" fill="#222" text-anchor="start" textLength="6.3" lengthAdjust="spacingAndGlyphs">34</text>
<text x="438.4" y="312.7" font-size="6.7" font-weight="bold" fill="#343434" text-anchor="end" textLength="25.6" lengthAdjust="spacingAndGlyphs">P0.5/AD5</text>
<polyline points="445.5,317.5 462.5,317.5" fill="none" stroke="#a63a3a" stroke-width="1.05"/>
<polyline points="462.5,317.5 596.5,317.5" fill="none" stroke="#2f6e3b" stroke-width="1.05"/>
<rect x="449.7" y="311.4" width="4.2" height="4.2" fill="#ff3c3c"/>
<text x="454" y="316.1" font-size="6.8" font-weight="bold" fill="#222" text-anchor="start" textLength="6.3" lengthAdjust="spacingAndGlyphs">33</text>
<text x="438.4" y="320.1" font-size="6.7" font-weight="bold" fill="#343434" text-anchor="end" textLength="25.6" lengthAdjust="spacingAndGlyphs">P0.6/AD6</text>
<polyline points="445.5,325.5 462.5,325.5" fill="none" stroke="#a63a3a" stroke-width="1.05"/>
<polyline points="462.5,325.5 596.5,325.5" fill="none" stroke="#2f6e3b" stroke-width="1.05"/>
<rect x="449.7" y="319.7" width="4.2" height="4.2" fill="#ff3c3c"/>
<text x="454" y="324.4" font-size="6.8" font-weight="bold" fill="#222" text-anchor="start" textLength="6.3" lengthAdjust="spacingAndGlyphs">32</text>
<text x="438.4" y="328.4" font-size="6.7" font-weight="bold" fill="#343434" text-anchor="end" textLength="25.6" lengthAdjust="spacingAndGlyphs">P0.7/AD7</text>
<polyline points="445.5,342.5 462.5,342.5" fill="none" stroke="#a63a3a" stroke-width="1.05"/>
<rect x="449.7" y="336.6" width="4.2" height="4.2" fill="#ff3c3c"/>
<text x="454" y="341.3" font-size="6.8" font-weight="bold" fill="#222" text-anchor="start" textLength="6.3" lengthAdjust="spacingAndGlyphs">21</text>
<text x="438.4" y="345.3" font-size="6.7" font-weight="bold" fill="#343434" text-anchor="end" textLength="20.8" lengthAdjust="spacingAndGlyphs">P2.0/A8</text>
<polyline points="462.5,342.5 488.5,342.5" fill="none" stroke="#2f6e3b" stroke-width="1.05"/>
<circle cx="488" cy="342.5" r="1.0" fill="#2f6e3b"/>
<text x="474.3" y="341.1" font-size="6.6" font-weight="bold" fill="#222" text-anchor="start" textLength="10.6" lengthAdjust="spacingAndGlyphs">p20</text>
<polyline points="445.5,350.5 462.5,350.5" fill="none" stroke="#a63a3a" stroke-width="1.05"/>
<rect x="449.7" y="344.9" width="4.2" height="4.2" fill="#ff3c3c"/>
<text x="454" y="349.6" font-size="6.8" font-weight="bold" fill="#222" text-anchor="start" textLength="6.3" lengthAdjust="spacingAndGlyphs">22</text>
<text x="438.4" y="353.6" font-size="6.7" font-weight="bold" fill="#343434" text-anchor="end" textLength="20.8" lengthAdjust="spacingAndGlyphs">P2.1/A9</text>
<polyline points="462.5,350.5 488.5,350.5" fill="none" stroke="#2f6e3b" stroke-width="1.05"/>
<circle cx="488" cy="350.8" r="1.0" fill="#2f6e3b"/>
<text x="474.3" y="349.4" font-size="6.6" font-weight="bold" fill="#222" text-anchor="start" textLength="10.6" lengthAdjust="spacingAndGlyphs">p21</text>
<polyline points="445.5,359.5 462.5,359.5" fill="none" stroke="#a63a3a" stroke-width="1.05"/>
<rect x="449.7" y="353.3" width="4.2" height="4.2" fill="#ff3c3c"/>
<text x="454" y="358" font-size="6.8" font-weight="bold" fill="#222" text-anchor="start" textLength="6.3" lengthAdjust="spacingAndGlyphs">23</text>
<text x="438.4" y="362" font-size="6.7" font-weight="bold" fill="#343434" text-anchor="end" textLength="24.6" lengthAdjust="spacingAndGlyphs">P2.2/A10</text>
<polyline points="462.5,359.5 488.5,359.5" fill="none" stroke="#2f6e3b" stroke-width="1.05"/>
<circle cx="488" cy="359.2" r="1.0" fill="#2f6e3b"/>
<text x="474.3" y="357.8" font-size="6.6" font-weight="bold" fill="#222" text-anchor="start" textLength="10.6" lengthAdjust="spacingAndGlyphs">p22</text>
<polyline points="445.5,367.5 462.5,367.5" fill="none" stroke="#a63a3a" stroke-width="1.05"/>
<rect x="449.7" y="361.6" width="4.2" height="4.2" fill="#4040ff"/>
<text x="454" y="366.3" font-size="6.8" font-weight="bold" fill="#222" text-anchor="start" textLength="6.3" lengthAdjust="spacingAndGlyphs">24</text>
<text x="438.4" y="370.3" font-size="6.7" font-weight="bold" fill="#343434" text-anchor="end" textLength="24.6" lengthAdjust="spacingAndGlyphs">P2.3/A11</text>
<polyline points="462.5,367.5 488.5,367.5" fill="none" stroke="#2f6e3b" stroke-width="1.05"/>
<circle cx="488" cy="367.5" r="1.0" fill="#2f6e3b"/>
<text x="474.3" y="366.1" font-size="6.6" font-weight="bold" fill="#222" text-anchor="start" textLength="10.6" lengthAdjust="spacingAndGlyphs">p23</text>
<polyline points="445.5,375.5 462.5,375.5" fill="none" stroke="#a63a3a" stroke-width="1.05"/>
<rect x="449.7" y="370" width="4.2" height="4.2" fill="#4040ff"/>
<text x="454" y="374.7" font-size="6.8" font-weight="bold" fill="#222" text-anchor="start" textLength="6.3" lengthAdjust="spacingAndGlyphs">25</text>
<text x="438.4" y="378.7" font-size="6.7" font-weight="bold" fill="#343434" text-anchor="end" textLength="24.6" lengthAdjust="spacingAndGlyphs">P2.4/A12</text>
<polyline points="445.5,383.5 462.5,383.5" fill="none" stroke="#a63a3a" stroke-width="1.05"/>
<rect x="449.7" y="377.3" width="4.2" height="4.2" fill="#ff3c3c"/>
<text x="454" y="382" font-size="6.8" font-weight="bold" fill="#222" text-anchor="start" textLength="6.3" lengthAdjust="spacingAndGlyphs">26</text>
<text x="438.4" y="386" font-size="6.7" font-weight="bold" fill="#343434" text-anchor="end" textLength="24.6" lengthAdjust="spacingAndGlyphs">P2.5/A13</text>
<polyline points="445.5,391.5 462.5,391.5" fill="none" stroke="#a63a3a" stroke-width="1.05"/>
<rect x="449.7" y="385.5" width="4.2" height="4.2" fill="#ff3c3c"/>
<text x="454" y="390.2" font-size="6.8" font-weight="bold" fill="#222" text-anchor="start" textLength="6.3" lengthAdjust="spacingAndGlyphs">27</text>
<text x="438.4" y="394.2" font-size="6.7" font-weight="bold" fill="#343434" text-anchor="end" textLength="24.6" lengthAdjust="spacingAndGlyphs">P2.6/A14</text>
<polyline points="445.5,399.5 462.5,399.5" fill="none" stroke="#a63a3a" stroke-width="1.05"/>
<rect x="449.7" y="393.8" width="4.2" height="4.2" fill="#ff3c3c"/>
<text x="454" y="398.5" font-size="6.8" font-weight="bold" fill="#222" text-anchor="start" textLength="6.3" lengthAdjust="spacingAndGlyphs">28</text>
<text x="438.4" y="402.5" font-size="6.7" font-weight="bold" fill="#343434" text-anchor="end" textLength="24.6" lengthAdjust="spacingAndGlyphs">P2.7/A15</text>
<polyline points="445.5,416.5 462.5,416.5" fill="none" stroke="#a63a3a" stroke-width="1.05"/>
<rect x="449.7" y="410.6" width="4.2" height="4.2" fill="#ff3c3c"/>
<text x="454" y="415.3" font-size="6.8" font-weight="bold" fill="#222" text-anchor="start" textLength="6.3" lengthAdjust="spacingAndGlyphs">10</text>
<text x="438.4" y="419.3" font-size="6.7" font-weight="bold" fill="#343434" text-anchor="end" textLength="26.6" lengthAdjust="spacingAndGlyphs">P3.0/RXD</text>
<polyline points="445.5,424.5 462.5,424.5" fill="none" stroke="#a63a3a" stroke-width="1.05"/>
<rect x="449.7" y="418.7" width="4.2" height="4.2" fill="#ff3c3c"/>
<text x="454" y="423.4" font-size="6.8" font-weight="bold" fill="#222" text-anchor="start" textLength="6.3" lengthAdjust="spacingAndGlyphs">11</text>
<text x="438.4" y="427.4" font-size="6.7" font-weight="bold" fill="#343434" text-anchor="end" textLength="26.6" lengthAdjust="spacingAndGlyphs">P3.1/TXD</text>
<polyline points="445.5,432.5 462.5,432.5" fill="none" stroke="#a63a3a" stroke-width="1.05"/>
<rect x="449.7" y="427" width="4.2" height="4.2" fill="#ff3c3c"/>
<text x="454" y="431.7" font-size="6.8" font-weight="bold" fill="#222" text-anchor="start" textLength="6.3" lengthAdjust="spacingAndGlyphs">12</text>
<text x="438.4" y="435.7" font-size="6.7" font-weight="bold" fill="#343434" text-anchor="end" textLength="30.4" lengthAdjust="spacingAndGlyphs">P3.2/INT0</text>
<path d="M426.9 429.2H442" stroke="#303030" stroke-width="0.8"/>
<polyline points="445.5,440.5 462.5,440.5" fill="none" stroke="#a63a3a" stroke-width="1.05"/>
<rect x="449.7" y="435.1" width="4.2" height="4.2" fill="#ff3c3c"/>
<text x="454" y="439.8" font-size="6.8" font-weight="bold" fill="#222" text-anchor="start" textLength="6.3" lengthAdjust="spacingAndGlyphs">13</text>
<text x="438.4" y="443.8" font-size="6.7" font-weight="bold" fill="#343434" text-anchor="end" textLength="30.4" lengthAdjust="spacingAndGlyphs">P3.3/INT1</text>
<path d="M426.9 437.3H442" stroke="#303030" stroke-width="0.8"/>
<polyline points="445.5,449.5 462.5,449.5" fill="none" stroke="#a63a3a" stroke-width="1.05"/>
<rect x="449.7" y="443.8" width="4.2" height="4.2" fill="#ff3c3c"/>
<text x="454" y="448.5" font-size="6.8" font-weight="bold" fill="#222" text-anchor="start" textLength="6.3" lengthAdjust="spacingAndGlyphs">14</text>
<text x="438.4" y="452.5" font-size="6.7" font-weight="bold" fill="#343434" text-anchor="end" textLength="20.6" lengthAdjust="spacingAndGlyphs">P3.4/T0</text>
<polyline points="445.5,457.5 462.5,457.5" fill="none" stroke="#a63a3a" stroke-width="1.05"/>
<rect x="449.7" y="451.9" width="4.2" height="4.2" fill="#ff3c3c"/>
<text x="454" y="456.6" font-size="6.8" font-weight="bold" fill="#222" text-anchor="start" textLength="6.3" lengthAdjust="spacingAndGlyphs">15</text>
<text x="438.4" y="460.6" font-size="6.7" font-weight="bold" fill="#343434" text-anchor="end" textLength="20.6" lengthAdjust="spacingAndGlyphs">P3.5/T1</text>
<path d="M431.4 454.1H442" stroke="#303030" stroke-width="0.8"/>
<polyline points="445.5,466.5 462.5,466.5" fill="none" stroke="#a63a3a" stroke-width="1.05"/>
<rect x="449.7" y="460.2" width="4.2" height="4.2" fill="#ff3c3c"/>
<text x="454" y="464.9" font-size="6.8" font-weight="bold" fill="#222" text-anchor="start" textLength="6.3" lengthAdjust="spacingAndGlyphs">16</text>
<text x="438.4" y="468.9" font-size="6.7" font-weight="bold" fill="#343434" text-anchor="end" textLength="24" lengthAdjust="spacingAndGlyphs">P3.6/WR</text>
<path d="M429.8 462.4H442" stroke="#303030" stroke-width="0.8"/>
<polyline points="445.5,474.5 462.5,474.5" fill="none" stroke="#a63a3a" stroke-width="1.05"/>
<rect x="449.7" y="468.2" width="4.2" height="4.2" fill="#ff3c3c"/>
<text x="454" y="472.9" font-size="6.8" font-weight="bold" fill="#222" text-anchor="start" textLength="6.3" lengthAdjust="spacingAndGlyphs">17</text>
<text x="438.4" y="476.9" font-size="6.7" font-weight="bold" fill="#343434" text-anchor="end" textLength="22" lengthAdjust="spacingAndGlyphs">P3.7/RD</text>
<path d="M429.8 470.4H442" stroke="#303030" stroke-width="0.8"/>
<text x="331" y="489.6" font-size="6.6" font-weight="bold" fill="#222" text-anchor="start" textLength="26.4" lengthAdjust="spacingAndGlyphs">AT89C52</text>
<text x="331" y="497.7" font-size="6.9" font-weight="bold" fill="#222" textLength="117" lengthAdjust="spacingAndGlyphs">PROGRAM=..\程序\传送带计数器.hex</text>
<polyline points="269.5,325.5 314.5,325.5" fill="none" stroke="#2f6e3b" stroke-width="1.05"/>
<polyline points="269.5,326.5 269.5,340.5" fill="none" stroke="#a63a3a" stroke-width="1.05"/>
<path d="M260.8 338.6Q269.4 343.6 278 338.6" fill="none" stroke="#a63a3a" stroke-width="1.1"/>
<polyline points="260.5,346.5 278.5,346.5" fill="none" stroke="#a63a3a" stroke-width="1.05"/>
<polyline points="269.5,346.5 269.5,357.5" fill="none" stroke="#a63a3a" stroke-width="1.05"/>
<polyline points="269.5,357.5 269.5,396.5" fill="none" stroke="#2f6e3b" stroke-width="1.05"/>
<polyline points="285.5,325.5 285.5,332.5" fill="none" stroke="#2f6e3b" stroke-width="1.05"/>
<polyline points="285.5,332.5 285.5,338.5" fill="none" stroke="#a63a3a" stroke-width="1.05"/>
<rect x="282.5" y="338.5" width="7" height="25" fill="#c8c8aa" stroke="#a63a3a" stroke-width="1.1"/>
<polyline points="285.5,363.5 285.5,370.5" fill="none" stroke="#a63a3a" stroke-width="1.05"/>
<polyline points="285.5,370.5 285.5,383.5" fill="none" stroke="#2f6e3b" stroke-width="1.05"/>
<polyline points="277.5,383.5 294.5,383.5" fill="none" stroke="#2f6e3b" stroke-width="1.05"/>
<polyline points="280.5,387.5 290.5,387.5" fill="none" stroke="#2f6e3b" stroke-width="1.05"/>
<polyline points="284.5,392.5 286.5,392.5" fill="none" stroke="#2f6e3b" stroke-width="1.05"/>
<rect x="263.2" y="323.8" width="4.8" height="4.8" fill="#ff3c3c"/>
<rect x="279.5" y="328.1" width="4.8" height="4.8" fill="#ff3c3c"/>
<rect x="263.2" y="356.8" width="4.8" height="4.8" fill="#ff3c3c"/>
<rect x="279.5" y="369.6" width="4.8" height="4.8" fill="#4040ff"/>
<text x="284" y="368.8" font-size="5.6" font-weight="bold" fill="#111" text-anchor="start" transform="rotate(-90 284 368.8)" textLength="6.6" lengthAdjust="spacingAndGlyphs">gnd</text>
<text x="294.5" y="346.8" font-size="10.5" font-weight="normal" fill="#1a1a1a" text-anchor="start" textLength="11.2" lengthAdjust="spacingAndGlyphs">R1</text>
<text x="294.5" y="356.5" font-size="6.7" font-weight="bold" fill="#111" text-anchor="start" textLength="8.4" lengthAdjust="spacingAndGlyphs">10k</text>
<text x="294" y="364.3" font-size="6.2" font-weight="normal" fill="#8e8e8e" text-anchor="start" textLength="23.4" lengthAdjust="spacingAndGlyphs">&lt;TEXT&gt;</text>
<text x="265.9" y="355.8" font-size="10.5" fill="#3a3a3a" textLength="12.2" lengthAdjust="spacingAndGlyphs">C3</text>
<text x="257.6" y="364.2" font-size="6.2" font-weight="normal" fill="#8e8e8e" text-anchor="start" textLength="23.4" lengthAdjust="spacingAndGlyphs">&lt;TEXT&gt;</text>
<text x="257.6" y="373.5" font-size="6.7" font-weight="bold" fill="#111" text-anchor="start" textLength="12.6" lengthAdjust="spacingAndGlyphs">10uF</text>
<polygon points="240.9,396 249.4,392 249.4,400" fill="none" stroke="#2f6e3b" stroke-width="1.1"/>
<polyline points="249.5,396.5 310.5,396.5 310.5,383.5 314.5,383.5" fill="none" stroke="#2f6e3b" stroke-width="1.05"/>
<text x="235" y="399.2" font-size="6.4" font-weight="bold" fill="#222" text-anchor="start" transform="rotate(-90 235 399.2)" textLength="11" lengthAdjust="spacingAndGlyphs" font-style="italic">+5V</text>
<rect x="606.5" y="244.5" width="21" height="90" fill="#c8c8aa" stroke="#a63a3a" stroke-width="1.1"/>
<text x="605.7" y="240.9" font-size="10.5" font-weight="normal" fill="#1a1a1a" text-anchor="start" textLength="17.6" lengthAdjust="spacingAndGlyphs">RP1</text>
<polygon points="582,224.3 578.1,232.5 585.9,232.5" fill="none" stroke="#2f6e3b" stroke-width="1.1"/>
<text x="573.8" y="217.7" font-size="6.4" font-weight="bold" fill="#222" text-anchor="start" textLength="11.4" lengthAdjust="spacingAndGlyphs" font-style="italic">+5V</text>
<polyline points="582.5,232.5 582.5,252.5 596.5,252.5" fill="none" stroke="#2f6e3b" stroke-width="1.05"/>
<polyline points="596.5,252.5 606.5,252.5" fill="none" stroke="#a63a3a" stroke-width="1.05"/>
<rect x="599.5" y="246.9" width="4.2" height="4.2" fill="#ff3c3c"/>
<text x="597.6" y="251.4" font-size="6.8" font-weight="bold" fill="#222" text-anchor="end" textLength="3.1" lengthAdjust="spacingAndGlyphs">1</text>
<polyline points="596.5,269.5 606.5,269.5" fill="none" stroke="#a63a3a" stroke-width="1.05"/>
<rect x="599.5" y="263.6" width="4.2" height="4.2" fill="#4040ff"/>
<text x="597.6" y="268.2" font-size="6.8" font-weight="bold" fill="#222" text-anchor="end" textLength="3.1" lengthAdjust="spacingAndGlyphs">2</text>
<polyline points="596.5,277.5 606.5,277.5" fill="none" stroke="#a63a3a" stroke-width="1.05"/>
<rect x="599.5" y="272" width="4.2" height="4.2" fill="#4040ff"/>
<text x="597.6" y="276.6" font-size="6.8" font-weight="bold" fill="#222" text-anchor="end" textLength="3.1" lengthAdjust="spacingAndGlyphs">3</text>
<polyline points="596.5,286.5 606.5,286.5" fill="none" stroke="#a63a3a" stroke-width="1.05"/>
<rect x="599.5" y="280.3" width="4.2" height="4.2" fill="#4040ff"/>
<text x="597.6" y="284.9" font-size="6.8" font-weight="bold" fill="#222" text-anchor="end" textLength="3.1" lengthAdjust="spacingAndGlyphs">4</text>
<polyline points="596.5,293.5 606.5,293.5" fill="none" stroke="#a63a3a" stroke-width="1.05"/>
<rect x="599.5" y="287.5" width="4.2" height="4.2" fill="#4040ff"/>
<text x="597.6" y="292.1" font-size="6.8" font-weight="bold" fill="#222" text-anchor="end" textLength="3.1" lengthAdjust="spacingAndGlyphs">5</text>
<polyline points="596.5,301.5 606.5,301.5" fill="none" stroke="#a63a3a" stroke-width="1.05"/>
<rect x="599.5" y="295.7" width="4.2" height="4.2" fill="#4040ff"/>
<text x="597.6" y="300.3" font-size="6.8" font-weight="bold" fill="#222" text-anchor="end" textLength="3.1" lengthAdjust="spacingAndGlyphs">6</text>
<polyline points="596.5,309.5 606.5,309.5" fill="none" stroke="#a63a3a" stroke-width="1.05"/>
<rect x="599.5" y="304.1" width="4.2" height="4.2" fill="#4040ff"/>
<text x="597.6" y="308.7" font-size="6.8" font-weight="bold" fill="#222" text-anchor="end" textLength="3.1" lengthAdjust="spacingAndGlyphs">7</text>
<polyline points="596.5,317.5 606.5,317.5" fill="none" stroke="#a63a3a" stroke-width="1.05"/>
<rect x="599.5" y="311.5" width="4.2" height="4.2" fill="#ff3c3c"/>
<text x="597.6" y="316.1" font-size="6.8" font-weight="bold" fill="#222" text-anchor="end" textLength="3.1" lengthAdjust="spacingAndGlyphs">8</text>
<polyline points="596.5,325.5 606.5,325.5" fill="none" stroke="#a63a3a" stroke-width="1.05"/>
<rect x="599.5" y="319.8" width="4.2" height="4.2" fill="#ff3c3c"/>
<text x="597.6" y="324.4" font-size="6.8" font-weight="bold" fill="#222" text-anchor="end" textLength="3.1" lengthAdjust="spacingAndGlyphs">9</text>
<text x="605.7" y="341.3" font-size="6.7" font-weight="bold" fill="#111" text-anchor="start" textLength="36.4" lengthAdjust="spacingAndGlyphs">RESPACK-8</text>
<text x="605.7" y="349.3" font-size="6.2" font-weight="normal" fill="#8e8e8e" text-anchor="start" textLength="23.4" lengthAdjust="spacingAndGlyphs">&lt;TEXT&gt;</text>
<polygon points="763,236.6 758.9,244.7 767.1,244.7" fill="none" stroke="#2f6e3b" stroke-width="1.1"/>
<text x="754.6" y="230" font-size="6.4" font-weight="bold" fill="#222" text-anchor="start" textLength="14.8" lengthAdjust="spacingAndGlyphs" font-style="italic">+12V</text>
<polyline points="762.5,244.5 762.5,290.5" fill="none" stroke="#2f6e3b" stroke-width="1.05"/>
<polyline points="762.5,290.5 762.5,304.5" fill="none" stroke="#a63a3a" stroke-width="1.05"/>
<polyline points="684.5,260.5 763.5,260.5" fill="none" stroke="#2f6e3b" stroke-width="1.05"/>
<circle cx="705.5" cy="260.9" r="1.1" fill="#2f6e3b"/>
<circle cx="763" cy="260.9" r="1.1" fill="#2f6e3b"/>
<polyline points="684.5,260.5 684.5,314.5" fill="none" stroke="#2f6e3b" stroke-width="1.05"/>
<polyline points="684.5,314.5 684.5,321.5" fill="none" stroke="#a63a3a" stroke-width="1.05"/>
<polygon points="684.5,322 676.8,330.5 692.4,330.5" fill="#c8c8aa" stroke="#a63a3a" stroke-width="1.1"/>
<polyline points="676.5,321.5 692.5,321.5" fill="none" stroke="#a63a3a" stroke-width="1.05"/>
<polyline points="684.5,330.5 684.5,338.5" fill="none" stroke="#a63a3a" stroke-width="1.05"/>
<polyline points="684.5,338.5 684.5,354.5 705.5,354.5" fill="none" stroke="#2f6e3b" stroke-width="1.05"/>
<polyline points="705.5,260.5 705.5,304.5 722.5,304.5" fill="none" stroke="#2f6e3b" stroke-width="1.05"/>
<polyline points="722.5,304.5 730.5,304.5" fill="none" stroke="#a63a3a" stroke-width="1.05"/>
<polyline points="722.5,330.5 730.5,330.5" fill="none" stroke="#a63a3a" stroke-width="1.05"/>
<polyline points="722.5,330.5 705.5,330.5 705.5,376.5" fill="none" stroke="#2f6e3b" stroke-width="1.05"/>
<rect x="730.5" y="296.5" width="50" height="42" fill="#c8c8aa" stroke="#a63a3a" stroke-width="1.1"/>
<path d="M731 305.2c10 -2 10 9 1 8.2c10 -1.5 10 9.5 0 8.3c10 -1.5 10 10 -1 8.6" fill="none" stroke="#a63a3a" stroke-width="1.1"/>
<polyline points="743.5,300.5 743.5,334.5" fill="none" stroke="#a63a3a" stroke-width="1.05"/>
<polyline points="746.5,300.5 746.5,334.5" fill="none" stroke="#a63a3a" stroke-width="1.05"/>
<polyline points="762.5,296.5 762.5,305.5" fill="none" stroke="#a63a3a" stroke-width="1.05"/>
<polyline points="762.5,331.5 762.5,338.5" fill="none" stroke="#a63a3a" stroke-width="1.05"/>
<line x1="763" y1="305.3" x2="771.6" y2="330.4" stroke="#8a8a8a" stroke-width="1"/>
<polyline points="762.5,338.5 762.5,364.5" fill="none" stroke="#a63a3a" stroke-width="1.05"/>
<text x="785.3" y="306.2" font-size="10.5" font-weight="normal" fill="#1a1a1a" text-anchor="start" textLength="17.4" lengthAdjust="spacingAndGlyphs">RL2</text>
<text x="785.3" y="315.5" font-size="6.7" font-weight="bold" fill="#111" text-anchor="start" textLength="31.4" lengthAdjust="spacingAndGlyphs">RLY-SPNO</text>
<text x="784.5" y="322.9" font-size="6.2" font-weight="normal" fill="#8e8e8e" text-anchor="start" textLength="23.4" lengthAdjust="spacingAndGlyphs">&lt;TEXT&gt;</text>
<text x="656.6" y="299.8" font-size="6.2" font-weight="normal" fill="#8e8e8e" text-anchor="start" textLength="23.4" lengthAdjust="spacingAndGlyphs">&lt;TEXT&gt;</text>
<text x="661.1" y="307.3" font-size="6.7" font-weight="bold" fill="#111" text-anchor="start" textLength="20.2" lengthAdjust="spacingAndGlyphs">1N4007</text>
<text x="669.1" y="318.6" font-size="10.5" font-weight="normal" fill="#1a1a1a" text-anchor="start" textLength="12" lengthAdjust="spacingAndGlyphs">D2</text>
<circle cx="763" cy="379.4" r="15.9" fill="#000" stroke="#8a1010" stroke-width="1.3" stroke-dasharray="2.2 1.4"/>
<g transform="rotate(8 763 379.4)"><path d="M755 372.9A10.3 10.3 0 0 1 771 372.9" fill="none" stroke="#14bcc8" stroke-width="3.5"/><path d="M771 385.9A10.3 10.3 0 0 1 755 385.9" fill="none" stroke="#14bcc8" stroke-width="3.5"/></g>
<circle cx="763" cy="379.4" r="3.1" fill="#c8c0a0" stroke="#6a2020" stroke-width="1.2"/>
<polyline points="762.5,394.5 762.5,402.5" fill="none" stroke="#a63a3a" stroke-width="1.05"/>
<polyline points="762.5,402.5 762.5,454.5" fill="none" stroke="#2f6e3b" stroke-width="1.05"/>
<rect x="765.2" y="402.6" width="4.8" height="4.8" fill="#4040ff"/>
<polyline points="754.5,454.5 771.5,454.5" fill="none" stroke="#2f6e3b" stroke-width="1.05"/>
<polyline points="758.5,457.5 767.5,457.5" fill="none" stroke="#2f6e3b" stroke-width="1.05"/>
<polyline points="762.5,461.5 764.5,461.5" fill="none" stroke="#2f6e3b" stroke-width="1.05"/>
<polyline points="705.5,354.5 705.5,376.5" fill="none" stroke="#2f6e3b" stroke-width="1.05"/>
<polyline points="705.5,376.5 705.5,382.5 693.5,394.5" fill="none" stroke="#a63a3a" stroke-width="1.05"/>
<rect x="689.5" y="387.5" width="4" height="25" fill="#c8c8aa" stroke="#a63a3a" stroke-width="1.1"/>
<polyline points="693.5,405.5 705.5,416.5 705.5,424.5" fill="none" stroke="#a63a3a" stroke-width="1.05"/>
<polyline points="705.5,424.5 705.5,433.5 762.5,433.5" fill="none" stroke="#2f6e3b" stroke-width="1.05"/>
<polygon points="705.3,416.2 697.6,413.2 702.2,408.6" fill="#c8c8aa" stroke="#a63a3a" stroke-width="1"/>
<rect x="699.3" y="422.6" width="4.8" height="4.8" fill="#4040ff"/>
<text x="710.7" y="392.8" font-size="10.5" font-weight="normal" fill="#1a1a1a" text-anchor="start" textLength="11.8" lengthAdjust="spacingAndGlyphs">Q1</text>
<text x="710.7" y="401" font-size="5.4" font-weight="bold" fill="#111" text-anchor="start" textLength="13" lengthAdjust="spacingAndGlyphs">NPN</text>
<text x="710" y="409.5" font-size="6.2" font-weight="normal" fill="#8e8e8e" text-anchor="start" textLength="23.4" lengthAdjust="spacingAndGlyphs">&lt;TEXT&gt;</text>
<polyline points="462.5,376.5 585.5,376.5 585.5,400.5 604.5,400.5" fill="none" stroke="#2f6e3b" stroke-width="1.05"/>
<polyline points="604.5,400.5 610.5,400.5" fill="none" stroke="#a63a3a" stroke-width="1.05"/>
<polyline points="635.5,400.5 643.5,400.5" fill="none" stroke="#a63a3a" stroke-width="1.05"/>
<rect x="610.5" y="396.5" width="25" height="7" fill="#c8c8aa" stroke="#a63a3a" stroke-width="1.1"/>
<polyline points="643.5,400.5 672.5,400.5" fill="none" stroke="#2f6e3b" stroke-width="1.05"/>
<polyline points="672.5,400.5 689.5,400.5" fill="none" stroke="#a63a3a" stroke-width="1.05"/>
<rect x="600.3" y="394.2" width="4.8" height="4.8" fill="#4040ff"/>
<text x="610" y="393.1" font-size="10.5" font-weight="normal" fill="#1a1a1a" text-anchor="start" textLength="11.8" lengthAdjust="spacingAndGlyphs">R3</text>
<text x="610.6" y="410.9" font-size="6.7" font-weight="bold" fill="#111" text-anchor="start" textLength="8.8" lengthAdjust="spacingAndGlyphs">100</text>
<text x="610" y="418.6" font-size="6.2" font-weight="normal" fill="#8e8e8e" text-anchor="start" textLength="23.4" lengthAdjust="spacingAndGlyphs">&lt;TEXT&gt;</text>
<polyline points="462.5,449.5 580.5,449.5" fill="none" stroke="#2f6e3b" stroke-width="1.05"/>
<circle cx="588" cy="449.7" r="1.8" fill="#e1e1d1" stroke="#a63a3a" stroke-width="0.9"/>
<circle cx="608" cy="449.7" r="1.8" fill="#e1e1d1" stroke="#a63a3a" stroke-width="0.9"/>
<polyline points="585.5,443.5 610.5,443.5" fill="none" stroke="#a63a3a" stroke-width="1.05"/>
<rect x="591.5" y="439.5" width="13" height="3" fill="#d2d2b8" stroke="#a63a3a" stroke-width="0.9"/>
<polyline points="580.5,449.5 586.5,449.5" fill="none" stroke="#a63a3a" stroke-width="1.05"/>
<polyline points="609.5,449.5 616.5,449.5" fill="none" stroke="#a63a3a" stroke-width="1.05"/>
<circle cx="614.8" cy="441.5" r="2.2" fill="#e00000" stroke="#600000" stroke-width="1"/>
<rect x="616.4" y="443.3" width="4.8" height="4.8" fill="#4040ff"/>
<rect x="575.3" y="443.3" width="4.8" height="4.8" fill="#ff3c3c"/>
<polyline points="616.5,449.5 644.5,449.5" fill="none" stroke="#2f6e3b" stroke-width="1.05"/>
<polyline points="644.5,441.5 644.5,457.5" fill="none" stroke="#2f6e3b" stroke-width="1.05"/>
<polyline points="648.5,445.5 648.5,453.5" fill="none" stroke="#2f6e3b" stroke-width="1.05"/>
<polyline points="652.5,449.5 652.5,450.5" fill="none" stroke="#2f6e3b" stroke-width="1.05"/>
<text x="583" y="435.6" font-size="7.4" font-weight="bold" font-style="italic" fill="#111" font-family="'Liberation Sans','Noto Sans CJK SC',sans-serif" textLength="43.6" lengthAdjust="spacingAndGlyphs">模拟光电开关</text>
<polyline points="462.5,466.5 506.5,466.5" fill="none" stroke="#2f6e3b" stroke-width="1.05"/>
<circle cx="514" cy="466" r="1.8" fill="#e1e1d1" stroke="#a63a3a" stroke-width="0.9"/>
<circle cx="534" cy="466" r="1.8" fill="#e1e1d1" stroke="#a63a3a" stroke-width="0.9"/>
<polyline points="511.5,459.5 536.5,459.5" fill="none" stroke="#a63a3a" stroke-width="1.05"/>
<rect x="517.5" y="455.5" width="13" height="3" fill="#d2d2b8" stroke="#a63a3a" stroke-width="0.9"/>
<polyline points="506.5,466.5 512.5,466.5" fill="none" stroke="#a63a3a" stroke-width="1.05"/>
<polyline points="535.5,466.5 542.5,466.5" fill="none" stroke="#a63a3a" stroke-width="1.05"/>
<circle cx="540.8" cy="457.8" r="2.2" fill="#e00000" stroke="#600000" stroke-width="1"/>
<rect x="542.4" y="459.6" width="4.8" height="4.8" fill="#4040ff"/>
<rect x="501.3" y="459.6" width="4.8" height="4.8" fill="#ff3c3c"/>
<polyline points="542.5,466.5 553.5,466.5 553.5,507.5" fill="none" stroke="#2f6e3b" stroke-width="1.05"/>
<text x="562" y="467.6" font-size="6.4" font-weight="bold" fill="#222" font-family="'Liberation Sans','Noto Sans CJK SC',sans-serif" textLength="21.6" lengthAdjust="spacingAndGlyphs">K1启动</text>
<polyline points="462.5,474.5 470.5,474.5 470.5,499.5 506.5,499.5" fill="none" stroke="#2f6e3b" stroke-width="1.05"/>
<circle cx="514" cy="499.5" r="1.8" fill="#e1e1d1" stroke="#a63a3a" stroke-width="0.9"/>
<circle cx="534" cy="499.5" r="1.8" fill="#e1e1d1" stroke="#a63a3a" stroke-width="0.9"/>
<polyline points="511.5,492.5 536.5,492.5" fill="none" stroke="#a63a3a" stroke-width="1.05"/>
<rect x="517.5" y="489.5" width="13" height="3" fill="#d2d2b8" stroke="#a63a3a" stroke-width="0.9"/>
<polyline points="506.5,499.5 512.5,499.5" fill="none" stroke="#a63a3a" stroke-width="1.05"/>
<polyline points="535.5,499.5 542.5,499.5" fill="none" stroke="#a63a3a" stroke-width="1.05"/>
<circle cx="540.8" cy="491.3" r="2.2" fill="#e00000" stroke="#600000" stroke-width="1"/>
<rect x="542.4" y="493.1" width="4.8" height="4.8" fill="#4040ff"/>
<rect x="501.3" y="493.1" width="4.8" height="4.8" fill="#ff3c3c"/>
<polyline points="542.5,499.5 553.5,499.5" fill="none" stroke="#2f6e3b" stroke-width="1.05"/>
<text x="562" y="496.5" font-size="6.4" font-weight="bold" fill="#222" font-family="'Liberation Sans','Noto Sans CJK SC',sans-serif" textLength="21.6" lengthAdjust="spacingAndGlyphs">K2停止</text>
<polyline points="544.5,507.5 561.5,507.5" fill="none" stroke="#2f6e3b" stroke-width="1.05"/>
<polyline points="548.5,511.5 557.5,511.5" fill="none" stroke="#2f6e3b" stroke-width="1.05"/>
<polyline points="552.5,514.5 554.5,514.5" fill="none" stroke="#2f6e3b" stroke-width="1.05"/>
<path d="M84.4 556.6V408.6H302.3V477.4" fill="none" stroke="#0000d2" stroke-width="4.2" stroke-linecap="round" stroke-linejoin="miter"/>
<rect x="116.5" y="429.5" width="116" height="147" fill="#c8c8aa" stroke="#a63a3a" stroke-width="1.1"/>
<polyline points="141.5,410.5 141.5,429.5" fill="none" stroke="#a63a3a" stroke-width="1.05"/>
<rect x="134.6" y="418.2" width="4.8" height="4.8" fill="#4040ff"/>
<text x="139.3" y="412.2" font-size="7" font-weight="bold" fill="#111" text-anchor="start" transform="rotate(-90 139.3 412.2)" textLength="12" lengthAdjust="spacingAndGlyphs">P1.2</text>
<text x="143.7" y="437.6" font-size="6.2" font-weight="bold" fill="#333" text-anchor="start" transform="rotate(-90 143.7 437.6)">1</text>
<polyline points="174.5,410.5 174.5,429.5" fill="none" stroke="#a63a3a" stroke-width="1.05"/>
<rect x="167.4" y="418.2" width="4.8" height="4.8" fill="#ff3c3c"/>
<text x="172.1" y="412.2" font-size="7" font-weight="bold" fill="#111" text-anchor="start" transform="rotate(-90 172.1 412.2)" textLength="12" lengthAdjust="spacingAndGlyphs">P1.1</text>
<text x="176.5" y="437.6" font-size="6.2" font-weight="bold" fill="#333" text-anchor="start" transform="rotate(-90 176.5 437.6)">2</text>
<polyline points="207.5,410.5 207.5,429.5" fill="none" stroke="#a63a3a" stroke-width="1.05"/>
<rect x="200.4" y="418.2" width="4.8" height="4.8" fill="#ff3c3c"/>
<text x="205.1" y="412.2" font-size="7" font-weight="bold" fill="#111" text-anchor="start" transform="rotate(-90 205.1 412.2)" textLength="12" lengthAdjust="spacingAndGlyphs">P1.0</text>
<text x="209.5" y="437.6" font-size="6.2" font-weight="bold" fill="#333" text-anchor="start" transform="rotate(-90 209.5 437.6)">3</text>
<polyline points="86.5,454.5 100.5,454.5" fill="none" stroke="#2f6e3b" stroke-width="1.05"/>
<polyline points="100.5,454.5 116.5,454.5" fill="none" stroke="#a63a3a" stroke-width="1.05"/>
<text x="92.1" y="452.3" font-size="7.2" font-weight="bold" fill="#111" text-anchor="start" textLength="12.4" lengthAdjust="spacingAndGlyphs">P1.3</text>
<rect x="106.5" y="447.3" width="4.8" height="4.8" fill="#ff3c3c"/>
<text x="120" y="457.2" font-size="6.4" font-weight="bold" fill="#3a3a3a" text-anchor="start" textLength="4.8" lengthAdjust="spacingAndGlyphs">A</text>
<polyline points="86.5,486.5 100.5,486.5" fill="none" stroke="#2f6e3b" stroke-width="1.05"/>
<polyline points="100.5,486.5 116.5,486.5" fill="none" stroke="#a63a3a" stroke-width="1.05"/>
<text x="92.1" y="484.4" font-size="7.2" font-weight="bold" fill="#111" text-anchor="start" textLength="12.4" lengthAdjust="spacingAndGlyphs">P1.4</text>
<rect x="106.5" y="479.4" width="4.8" height="4.8" fill="#ff3c3c"/>
<text x="120" y="489.3" font-size="6.4" font-weight="bold" fill="#3a3a3a" text-anchor="start" textLength="4.8" lengthAdjust="spacingAndGlyphs">B</text>
<polyline points="86.5,520.5 100.5,520.5" fill="none" stroke="#2f6e3b" stroke-width="1.05"/>
<polyline points="100.5,520.5 116.5,520.5" fill="none" stroke="#a63a3a" stroke-width="1.05"/>
<text x="92.1" y="517.9" font-size="7.2" font-weight="bold" fill="#111" text-anchor="start" textLength="12.4" lengthAdjust="spacingAndGlyphs">P1.5</text>
<rect x="106.5" y="512.9" width="4.8" height="4.8" fill="#ff3c3c"/>
<text x="120" y="522.8" font-size="6.4" font-weight="bold" fill="#3a3a3a" text-anchor="start" textLength="4.8" lengthAdjust="spacingAndGlyphs">C</text>
<polyline points="86.5,552.5 100.5,552.5" fill="none" stroke="#2f6e3b" stroke-width="1.05"/>
<polyline points="100.5,552.5 116.5,552.5" fill="none" stroke="#a63a3a" stroke-width="1.05"/>
<text x="96" y="550.3" font-size="7.2" font-weight="bold" fill="#111" text-anchor="start" textLength="12.4" lengthAdjust="spacingAndGlyphs">P1.6</text>
<rect x="106.5" y="545.3" width="4.8" height="4.8" fill="#ff3c3c"/>
<text x="120" y="555.2" font-size="6.4" font-weight="bold" fill="#3a3a3a" text-anchor="start" textLength="4.8" lengthAdjust="spacingAndGlyphs">D</text>
<circle cx="141.5" cy="454.4" r="11.6" fill="#c9c9c9" stroke="#2a2a2a" stroke-width="1.2"/>
<text x="141.5" y="461" font-size="18.4" font-weight="bold" fill="#111" text-anchor="middle" textLength="9" lengthAdjust="spacingAndGlyphs">1</text>
<circle cx="174.3" cy="454.4" r="11.6" fill="#c9c9c9" stroke="#2a2a2a" stroke-width="1.2"/>
<text x="174.3" y="461" font-size="18.4" font-weight="bold" fill="#111" text-anchor="middle" textLength="9" lengthAdjust="spacingAndGlyphs">2</text>
<circle cx="207.3" cy="454.4" r="11.6" fill="#c9c9c9" stroke="#2a2a2a" stroke-width="1.2"/>
<text x="207.3" y="461" font-size="18.4" font-weight="bold" fill="#111" text-anchor="middle" textLength="9" lengthAdjust="spacingAndGlyphs">3</text>
<circle cx="141.5" cy="486.5" r="11.6" fill="#c9c9c9" stroke="#2a2a2a" stroke-width="1.2"/>
<text x="141.5" y="493.1" font-size="18.4" font-weight="bold" fill="#111" text-anchor="middle" textLength="9" lengthAdjust="spacingAndGlyphs">4</text>
<circle cx="174.3" cy="486.5" r="11.6" fill="#c9c9c9" stroke="#2a2a2a" stroke-width="1.2"/>
<text x="174.3" y="493.1" font-size="18.4" font-weight="bold" fill="#111" text-anchor="middle" textLength="9" lengthAdjust="spacingAndGlyphs">5</text>
<circle cx="207.3" cy="486.5" r="11.6" fill="#c9c9c9" stroke="#2a2a2a" stroke-width="1.2"/>
<text x="207.3" y="493.1" font-size="18.4" font-weight="bold" fill="#111" text-anchor="middle" textLength="9" lengthAdjust="spacingAndGlyphs">6</text>
<circle cx="141.5" cy="520" r="11.6" fill="#c9c9c9" stroke="#2a2a2a" stroke-width="1.2"/>
<text x="141.5" y="526.6" font-size="18.4" font-weight="bold" fill="#111" text-anchor="middle" textLength="9" lengthAdjust="spacingAndGlyphs">7</text>
<circle cx="174.3" cy="520" r="11.6" fill="#c9c9c9" stroke="#2a2a2a" stroke-width="1.2"/>
<text x="174.3" y="526.6" font-size="18.4" font-weight="bold" fill="#111" text-anchor="middle" textLength="9" lengthAdjust="spacingAndGlyphs">8</text>
<circle cx="207.3" cy="520" r="11.6" fill="#c9c9c9" stroke="#2a2a2a" stroke-width="1.2"/>
<text x="207.3" y="526.6" font-size="18.4" font-weight="bold" fill="#111" text-anchor="middle" textLength="9" lengthAdjust="spacingAndGlyphs">9</text>
<circle cx="141.5" cy="552.4" r="11.6" fill="#c9c9c9" stroke="#2a2a2a" stroke-width="1.2"/>
<text x="141.5" y="558" font-size="16.6" font-weight="bold" fill="#111" text-anchor="middle" stroke="#111" stroke-width="0.5" font-family="'Noto Sans CJK SC',sans-serif">＊</text>
<circle cx="174.3" cy="552.4" r="11.6" fill="#c9c9c9" stroke="#2a2a2a" stroke-width="1.2"/>
<text x="174.3" y="559" font-size="18.4" font-weight="bold" fill="#111" text-anchor="middle" textLength="9" lengthAdjust="spacingAndGlyphs">0</text>
<circle cx="207.3" cy="552.4" r="11.6" fill="#c9c9c9" stroke="#2a2a2a" stroke-width="1.2"/>
<text x="207.3" y="559" font-size="18.4" font-weight="bold" fill="#111" text-anchor="middle" textLength="9" lengthAdjust="spacingAndGlyphs">#</text>
<text x="328.1 343.1 358.1 373.1 388.1 403.1 418.1 433.1 448.1 463.1 478.1 491.8 506 521 536.2 551.2 556.6 571.6 586.6 601.2 615.6 630.6 640.2 655 669.8 684.6 699.6 714.6 729.1 743.6 758.5" y="524.6" font-size="13.4" fill="#9a2222" font-family="'Liberation Sans','Noto Sans CJK SC',sans-serif">说明：矩阵键盘用来设定计数值，*代表清零，#代表确定。当达到计</text>
<text x="328.1 343.1 358.1 373.1 388.1 403.1 418.1 433.1 448.1 463.1 478.1 493.1 508.1 523.1 538.1 553.1 568.1 583.1 598.1 613.1 628.1 643.1 658.1" y="540.8" font-size="13.4" fill="#9a2222" font-family="'Liberation Sans','Noto Sans CJK SC',sans-serif">数值则电机停转。此处用一个开关模拟光电传感器。</text>
<text x="328.1 343.1 358.1 373.1 388.1 403.1 418.1 433.1 448.1 461 464.8 472.2 479.8 494.7 509.6 524.5 539.4 554.3 569.2 584.1 599 612.7 616.4 631.6 646.6 650.6 665.6 680.6 695.6" y="557" font-size="13.4" fill="#9a2222" font-family="'Liberation Sans','Noto Sans CJK SC',sans-serif">计数完成后再次按下"#"按键清除计数，再按"启动"开始一次</text>
<text x="328.1 343.1 358.1 373.1 388.1" y="573.2" font-size="13.4" fill="#9a2222" font-family="'Liberation Sans','Noto Sans CJK SC',sans-serif">新的计数。</text>
</svg>
</body></html>
